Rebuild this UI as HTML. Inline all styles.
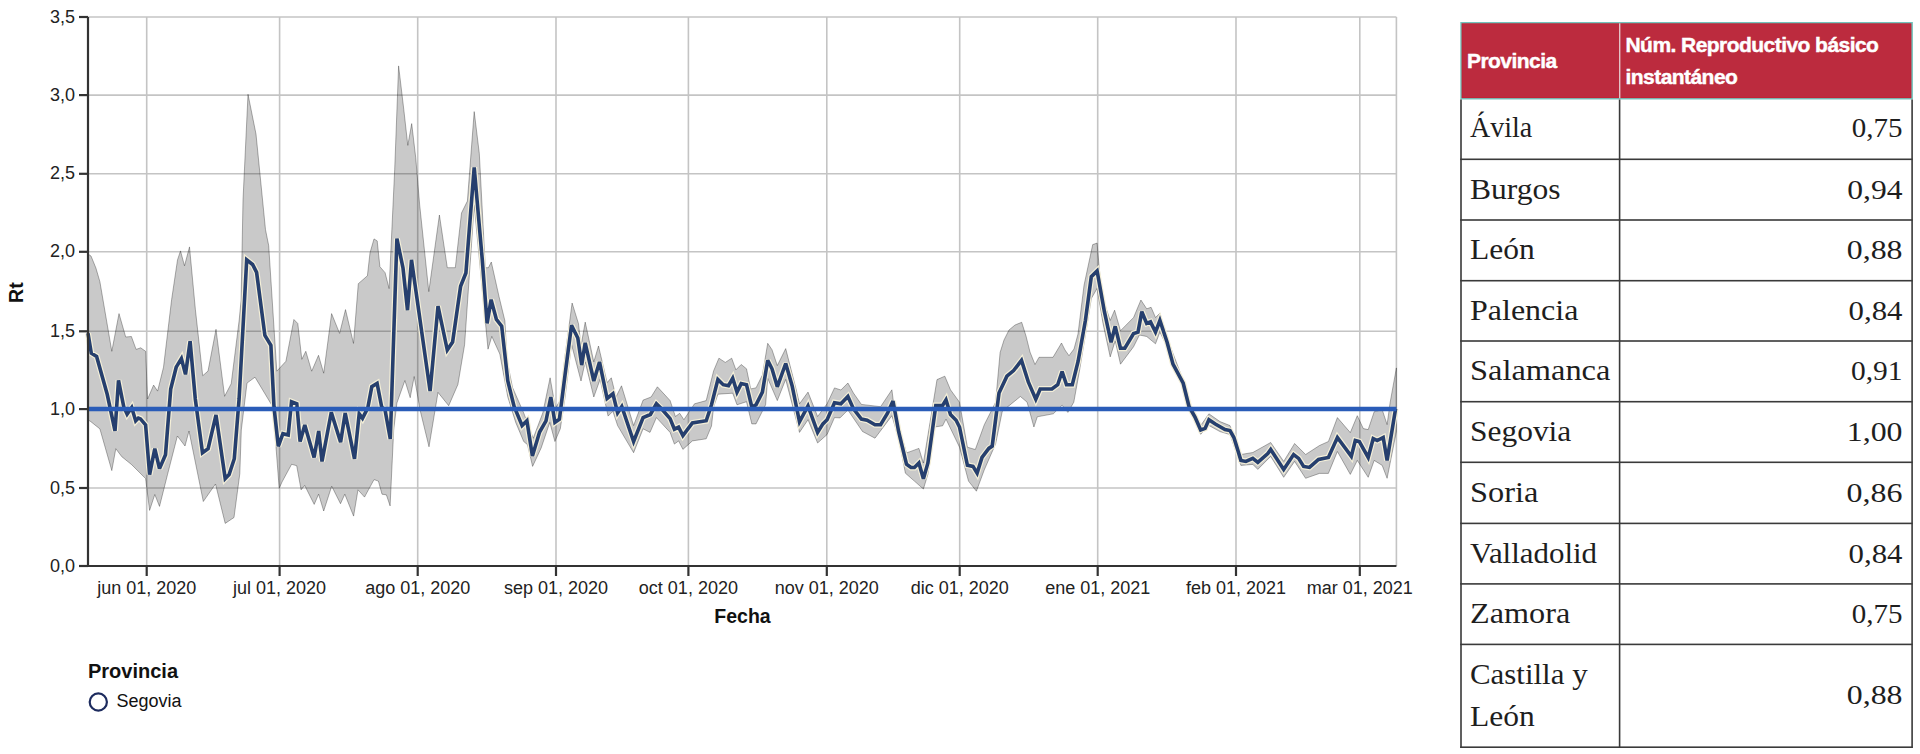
<!DOCTYPE html>
<html><head><meta charset="utf-8"><style>
html,body{margin:0;padding:0;background:#fff;}
body{width:1920px;height:754px;position:relative;overflow:hidden;}
</style></head>
<body>
<svg width="1920" height="754" viewBox="0 0 1920 754" style="position:absolute;left:0;top:0"><g stroke="#c4c4c4" stroke-width="1.6"><line x1="88" y1="488.0" x2="1396.4" y2="488.0"/><line x1="88" y1="409.1" x2="1396.4" y2="409.1"/><line x1="88" y1="331.3" x2="1396.4" y2="331.3"/><line x1="88" y1="251.8" x2="1396.4" y2="251.8"/><line x1="88" y1="173.8" x2="1396.4" y2="173.8"/><line x1="88" y1="95.1" x2="1396.4" y2="95.1"/><line x1="88" y1="17.0" x2="1396.4" y2="17.0"/><line x1="146.7" y1="17" x2="146.7" y2="566"/><line x1="279.6" y1="17" x2="279.6" y2="566"/><line x1="417.7" y1="17" x2="417.7" y2="566"/><line x1="556.0" y1="17" x2="556.0" y2="566"/><line x1="688.4" y1="17" x2="688.4" y2="566"/><line x1="826.8" y1="17" x2="826.8" y2="566"/><line x1="959.7" y1="17" x2="959.7" y2="566"/><line x1="1097.7" y1="17" x2="1097.7" y2="566"/><line x1="1236.0" y1="17" x2="1236.0" y2="566"/><line x1="1359.8" y1="17" x2="1359.8" y2="566"/><line x1="1396.4" y1="17" x2="1396.4" y2="566"/></g><path d="M88.0,254.0 L91.0,256.0 L95.9,268.0 L99.9,281.7 L111.8,351.3 L119.0,313.6 L125.7,337.0 L131.4,336.5 L136.1,349.4 L140.7,347.8 L145.6,351.3 L147.6,399.0 L153.6,385.1 L157.6,391.1 L163.5,367.2 L171.6,299.7 L177.5,259.9 L180.5,250.9 L184.5,265.8 L189.5,246.9 L195.4,309.6 L202.7,375.7 L208.0,371.1 L216.0,329.3 L224.6,396.3 L231.2,383.7 L239.2,320.0 L241.1,300.0 L243.0,200.0 L248.0,94.3 L256.0,134.1 L265.5,229.7 L268.7,245.6 L276.8,371.2 L285.9,361.3 L293.9,319.5 L297.8,323.5 L301.8,359.3 L305.8,351.3 L311.7,371.2 L318.5,355.3 L323.7,373.2 L331.6,313.6 L339.6,333.4 L345.5,309.6 L353.5,343.4 L358.3,283.7 L367.4,275.8 L370.0,252.8 L374.0,238.9 L377.2,240.9 L379.9,266.7 L385.1,272.7 L389.1,288.6 L394.7,169.3 L398.6,65.9 L403.8,109.6 L407.8,145.4 L411.7,123.6 L415.7,157.4 L419.7,205.1 L428.8,291.6 L439.4,215.0 L447.3,267.7 L455.3,267.7 L461.5,213.0 L467.4,201.1 L474.2,111.6 L479.3,153.4 L485.3,267.7 L488.4,267.7 L491.3,262.0 L499.1,296.9 L504.9,320.8 L507.0,360.0 L512.5,387.4 L523.7,412.9 L533.2,438.3 L542.8,412.9 L550.1,377.8 L555.5,408.1 L560.3,400.1 L565.1,355.5 L572.1,303.0 L578.5,323.7 L581.0,346.0 L585.2,322.1 L593.8,361.9 L598.5,346.0 L607.1,382.6 L611.3,377.8 L616.0,396.9 L621.5,385.8 L633.6,425.6 L643.1,400.1 L651.1,397.0 L657.4,386.8 L670.1,400.6 L675.4,416.5 L679.7,413.3 L683.9,419.7 L694.5,403.8 L706.2,400.6 L713.6,370.9 L718.9,358.2 L725.3,362.4 L731.7,358.2 L735.9,369.8 L741.2,364.5 L746.5,368.8 L750.7,388.9 L756.0,387.9 L762.4,375.1 L767.7,343.3 L772.0,349.7 L777.3,365.6 L785.7,348.6 L796.3,390.0 L799.5,403.8 L808.0,392.1 L817.6,416.5 L827.1,403.8 L834.5,387.9 L840.9,390.0 L847.9,383.0 L853.5,393.1 L861.4,404.4 L880.6,406.7 L891.9,389.8 L895.2,415.7 L906.5,452.9 L918.9,448.4 L923.4,463.0 L937.0,379.6 L944.8,376.2 L950.5,389.8 L959.5,402.2 L967.4,447.2 L975.3,449.5 L984.3,424.7 L995.6,402.2 L1000.1,352.5 L1004.0,340.0 L1009.0,330.0 L1015.0,325.0 L1021.7,322.3 L1026.0,336.0 L1030.0,352.0 L1035.0,364.5 L1039.0,357.3 L1053.0,357.3 L1061.5,343.0 L1065.0,350.0 L1069.0,355.7 L1074.0,349.0 L1078.0,334.0 L1084.0,285.4 L1092.7,244.6 L1097.1,243.1 L1101.5,294.2 L1110.2,320.5 L1114.6,310.2 L1120.5,330.7 L1133.6,317.5 L1140.9,300.0 L1146.7,308.8 L1151.1,307.3 L1155.5,317.5 L1159.9,313.2 L1167.1,338.0 L1183.2,380.3 L1189.0,405.1 L1200.7,425.5 L1208.9,413.8 L1220.0,421.6 L1230.0,425.6 L1240.9,454.5 L1252.8,452.5 L1270.7,442.5 L1283.7,461.4 L1294.6,443.5 L1305.6,454.5 L1319.5,445.5 L1328.4,441.5 L1337.4,417.6 L1350.3,432.6 L1357.3,415.7 L1363.3,428.6 L1368.2,429.6 L1374.2,411.7 L1382.2,409.7 L1387.1,424.6 L1390.1,402.7 L1396.4,367.9 L1396.4,431.6 L1387.1,478.3 L1382.2,465.4 L1374.2,460.4 L1368.2,477.3 L1357.3,460.4 L1350.3,474.4 L1337.4,451.5 L1328.4,473.4 L1319.5,473.4 L1305.6,478.3 L1294.6,461.4 L1283.7,477.3 L1270.7,456.4 L1257.8,469.4 L1252.8,464.4 L1240.9,465.4 L1230.0,434.6 L1220.0,431.6 L1208.9,425.5 L1200.7,434.3 L1189.0,408.0 L1183.2,386.1 L1173.0,367.1 L1167.1,346.7 L1159.9,332.1 L1155.5,343.8 L1146.7,336.5 L1139.4,335.0 L1133.6,346.7 L1120.5,364.2 L1115.2,340.9 L1110.2,356.9 L1103.0,323.4 L1097.1,288.4 L1091.3,298.6 L1079.6,370.1 L1073.8,402.2 L1067.9,412.4 L1062.1,405.1 L1053.3,413.8 L1037.3,416.8 L1033.9,427.0 L1027.1,402.2 L1020.4,396.5 L1002.3,411.2 L995.6,443.9 L984.3,469.8 L976.4,491.2 L968.5,481.1 L959.5,447.2 L946.0,419.1 L942.6,425.8 L934.7,427.0 L927.9,474.3 L923.4,489.0 L914.4,481.1 L905.4,473.2 L898.6,438.2 L891.9,415.7 L875.0,438.2 L862.5,431.5 L847.9,410.0 L840.0,417.9 L834.5,417.6 L827.1,434.5 L817.6,443.0 L808.0,419.7 L799.5,432.4 L785.7,379.4 L777.3,400.6 L767.7,378.3 L765.6,404.8 L756.0,423.9 L751.8,423.9 L746.5,401.7 L737.0,404.8 L732.7,393.2 L717.9,394.2 L713.6,407.0 L711.5,426.0 L706.2,438.8 L692.4,440.9 L682.9,449.4 L678.6,440.9 L674.4,444.1 L670.1,432.4 L656.4,417.6 L650.0,432.4 L643.1,428.8 L633.6,452.7 L617.6,425.6 L612.9,411.3 L608.1,416.1 L600.1,379.4 L593.8,397.0 L585.2,361.9 L581.0,381.0 L571.5,344.4 L565.1,397.0 L560.3,428.8 L554.9,441.5 L549.8,422.4 L541.2,447.9 L532.6,466.4 L527.5,444.7 L523.7,441.5 L515.7,422.4 L507.8,397.0 L499.8,354.0 L491.8,336.4 L488.0,349.2 L482.3,290.0 L474.2,205.0 L464.6,344.7 L457.9,384.5 L448.7,405.7 L438.0,392.4 L429.0,446.8 L420.3,411.0 L414.2,376.5 L410.2,397.7 L404.9,380.5 L396.9,403.0 L393.7,430.0 L390.1,505.9 L386.4,494.9 L382.0,494.2 L378.4,481.1 L374.0,479.6 L364.5,497.1 L358.0,489.8 L353.6,516.1 L344.8,494.2 L340.5,503.7 L331.7,486.2 L323.7,511.0 L318.6,494.2 L314.2,504.4 L304.7,485.4 L301.1,489.8 L296.7,465.7 L291.6,464.3 L282.0,482.0 L279.2,488.4 L272.9,407.0 L255.0,377.2 L247.0,383.1 L241.3,430.0 L239.8,473.8 L234.0,517.5 L225.2,523.4 L215.5,484.0 L203.3,501.5 L189.0,431.0 L185.0,446.0 L177.4,436.0 L167.5,474.6 L159.5,506.4 L154.8,494.5 L149.6,510.4 L145.6,478.6 L131.7,464.7 L121.8,456.7 L115.8,448.7 L111.8,470.6 L99.9,428.9 L90.0,421.0 L88.0,420.0 Z" fill="#000" fill-opacity="0.21" stroke="#000" stroke-opacity="0.3" stroke-width="1" stroke-linejoin="round"/><path d="M88.0,333.3 L91.3,353.2 L96.6,356.5 L107.2,394.3 L115.0,430.8 L118.5,380.3 L123.8,407.0 L127.1,414.2 L131.7,407.5 L135.7,420.9 L138.4,418.1 L140.5,418.9 L145.6,424.9 L149.6,474.6 L154.8,448.7 L159.5,468.6 L165.5,454.7 L170.7,389.1 L176.2,367.2 L181.4,358.5 L185.5,374.4 L190.1,341.2 L195.3,399.0 L202.5,452.7 L208.1,448.7 L216.0,415.0 L225.2,478.6 L229.1,474.6 L234.3,458.7 L239.1,399.0 L246.7,259.8 L252.6,264.5 L256.6,272.4 L264.9,335.4 L270.9,345.4 L274.0,407.0 L278.3,446.3 L282.9,433.7 L288.2,435.0 L291.5,401.8 L296.8,403.8 L300.1,441.6 L304.8,425.0 L314.1,457.5 L318.7,431.0 L322.0,461.5 L331.3,412.4 L340.6,442.3 L345.2,413.1 L354.5,458.9 L359.2,413.8 L362.5,418.4 L367.8,407.8 L371.8,386.6 L377.1,383.3 L381.7,407.1 L385.0,409.8 L390.3,439.0 L396.9,238.6 L403.0,268.0 L407.5,310.2 L411.5,259.8 L430.1,391.1 L438.0,306.2 L447.3,350.0 L452.6,342.0 L460.6,286.3 L465.9,273.0 L474.2,167.3 L482.3,260.0 L487.1,323.4 L491.1,299.6 L496.4,319.5 L501.7,326.1 L507.8,381.0 L514.1,406.5 L522.1,425.6 L526.9,420.8 L532.4,456.0 L539.6,432.0 L546.0,420.8 L550.8,397.0 L554.9,422.4 L559.4,419.2 L565.1,374.6 L571.5,325.3 L577.8,338.0 L581.7,365.1 L585.2,342.8 L593.8,381.0 L599.5,361.9 L607.1,398.5 L612.9,393.8 L617.6,412.9 L621.8,406.5 L633.6,441.5 L643.1,417.6 L650.4,414.5 L656.4,403.8 L661.7,409.1 L670.1,418.6 L674.4,429.2 L678.6,427.1 L682.9,435.6 L692.4,422.9 L706.2,420.7 L711.5,404.8 L717.9,379.4 L723.2,384.7 L728.5,385.7 L732.7,378.3 L737.0,392.1 L741.2,383.6 L746.5,384.7 L751.8,407.0 L756.0,404.8 L762.4,392.1 L767.7,360.3 L772.0,368.8 L777.3,386.8 L785.7,363.5 L792.1,385.7 L799.5,421.8 L808.0,405.9 L817.6,432.4 L822.9,423.9 L827.1,419.7 L834.5,402.7 L840.9,403.8 L847.9,396.5 L853.5,408.9 L861.4,419.1 L867.1,420.2 L875.0,424.7 L880.6,424.7 L887.4,413.4 L893.0,401.0 L898.6,431.5 L906.5,464.2 L911.0,467.5 L914.4,467.5 L918.9,463.0 L923.4,478.8 L927.9,463.0 L935.8,405.5 L942.6,405.5 L946.0,399.9 L950.5,414.6 L956.1,420.2 L959.5,427.0 L967.4,465.3 L973.0,466.4 L977.1,473.2 L982.0,457.4 L988.8,448.4 L992.2,446.1 L999.0,393.1 L1006.9,376.2 L1013.6,370.6 L1021.5,360.4 L1028.3,381.9 L1035.8,399.2 L1040.2,389.0 L1051.9,389.0 L1057.7,384.7 L1062.1,371.5 L1066.5,384.7 L1072.3,384.7 L1078.1,361.3 L1085.4,320.5 L1091.3,276.7 L1097.1,270.9 L1104.4,311.7 L1111.1,342.3 L1115.2,326.3 L1120.5,348.2 L1124.8,348.2 L1133.6,333.6 L1138.0,332.1 L1141.8,311.7 L1146.7,323.4 L1150.5,321.9 L1155.5,332.1 L1159.9,320.5 L1167.1,342.3 L1173.0,364.2 L1183.2,383.2 L1189.0,406.5 L1194.9,416.8 L1200.7,429.9 L1205.1,428.4 L1208.9,419.7 L1215.3,424.0 L1225.0,429.6 L1230.0,430.6 L1233.9,437.5 L1240.9,460.4 L1245.9,461.4 L1252.8,458.4 L1257.8,462.4 L1267.8,453.5 L1270.7,449.5 L1283.7,469.4 L1293.6,454.5 L1298.6,458.4 L1303.6,466.4 L1309.5,467.4 L1318.5,459.4 L1328.4,457.4 L1337.4,437.5 L1351.3,456.4 L1355.3,440.5 L1359.3,441.5 L1368.2,457.4 L1373.2,438.5 L1377.2,440.5 L1383.2,437.5 L1387.1,460.4 L1395.6,408.7" fill="none" stroke="#f4efd8" stroke-width="6" stroke-linejoin="miter" stroke-miterlimit="3"/><path d="M88.0,333.3 L91.3,353.2 L96.6,356.5 L107.2,394.3 L115.0,430.8 L118.5,380.3 L123.8,407.0 L127.1,414.2 L131.7,407.5 L135.7,420.9 L138.4,418.1 L140.5,418.9 L145.6,424.9 L149.6,474.6 L154.8,448.7 L159.5,468.6 L165.5,454.7 L170.7,389.1 L176.2,367.2 L181.4,358.5 L185.5,374.4 L190.1,341.2 L195.3,399.0 L202.5,452.7 L208.1,448.7 L216.0,415.0 L225.2,478.6 L229.1,474.6 L234.3,458.7 L239.1,399.0 L246.7,259.8 L252.6,264.5 L256.6,272.4 L264.9,335.4 L270.9,345.4 L274.0,407.0 L278.3,446.3 L282.9,433.7 L288.2,435.0 L291.5,401.8 L296.8,403.8 L300.1,441.6 L304.8,425.0 L314.1,457.5 L318.7,431.0 L322.0,461.5 L331.3,412.4 L340.6,442.3 L345.2,413.1 L354.5,458.9 L359.2,413.8 L362.5,418.4 L367.8,407.8 L371.8,386.6 L377.1,383.3 L381.7,407.1 L385.0,409.8 L390.3,439.0 L396.9,238.6 L403.0,268.0 L407.5,310.2 L411.5,259.8 L430.1,391.1 L438.0,306.2 L447.3,350.0 L452.6,342.0 L460.6,286.3 L465.9,273.0 L474.2,167.3 L482.3,260.0 L487.1,323.4 L491.1,299.6 L496.4,319.5 L501.7,326.1 L507.8,381.0 L514.1,406.5 L522.1,425.6 L526.9,420.8 L532.4,456.0 L539.6,432.0 L546.0,420.8 L550.8,397.0 L554.9,422.4 L559.4,419.2 L565.1,374.6 L571.5,325.3 L577.8,338.0 L581.7,365.1 L585.2,342.8 L593.8,381.0 L599.5,361.9 L607.1,398.5 L612.9,393.8 L617.6,412.9 L621.8,406.5 L633.6,441.5 L643.1,417.6 L650.4,414.5 L656.4,403.8 L661.7,409.1 L670.1,418.6 L674.4,429.2 L678.6,427.1 L682.9,435.6 L692.4,422.9 L706.2,420.7 L711.5,404.8 L717.9,379.4 L723.2,384.7 L728.5,385.7 L732.7,378.3 L737.0,392.1 L741.2,383.6 L746.5,384.7 L751.8,407.0 L756.0,404.8 L762.4,392.1 L767.7,360.3 L772.0,368.8 L777.3,386.8 L785.7,363.5 L792.1,385.7 L799.5,421.8 L808.0,405.9 L817.6,432.4 L822.9,423.9 L827.1,419.7 L834.5,402.7 L840.9,403.8 L847.9,396.5 L853.5,408.9 L861.4,419.1 L867.1,420.2 L875.0,424.7 L880.6,424.7 L887.4,413.4 L893.0,401.0 L898.6,431.5 L906.5,464.2 L911.0,467.5 L914.4,467.5 L918.9,463.0 L923.4,478.8 L927.9,463.0 L935.8,405.5 L942.6,405.5 L946.0,399.9 L950.5,414.6 L956.1,420.2 L959.5,427.0 L967.4,465.3 L973.0,466.4 L977.1,473.2 L982.0,457.4 L988.8,448.4 L992.2,446.1 L999.0,393.1 L1006.9,376.2 L1013.6,370.6 L1021.5,360.4 L1028.3,381.9 L1035.8,399.2 L1040.2,389.0 L1051.9,389.0 L1057.7,384.7 L1062.1,371.5 L1066.5,384.7 L1072.3,384.7 L1078.1,361.3 L1085.4,320.5 L1091.3,276.7 L1097.1,270.9 L1104.4,311.7 L1111.1,342.3 L1115.2,326.3 L1120.5,348.2 L1124.8,348.2 L1133.6,333.6 L1138.0,332.1 L1141.8,311.7 L1146.7,323.4 L1150.5,321.9 L1155.5,332.1 L1159.9,320.5 L1167.1,342.3 L1173.0,364.2 L1183.2,383.2 L1189.0,406.5 L1194.9,416.8 L1200.7,429.9 L1205.1,428.4 L1208.9,419.7 L1215.3,424.0 L1225.0,429.6 L1230.0,430.6 L1233.9,437.5 L1240.9,460.4 L1245.9,461.4 L1252.8,458.4 L1257.8,462.4 L1267.8,453.5 L1270.7,449.5 L1283.7,469.4 L1293.6,454.5 L1298.6,458.4 L1303.6,466.4 L1309.5,467.4 L1318.5,459.4 L1328.4,457.4 L1337.4,437.5 L1351.3,456.4 L1355.3,440.5 L1359.3,441.5 L1368.2,457.4 L1373.2,438.5 L1377.2,440.5 L1383.2,437.5 L1387.1,460.4 L1395.6,408.7" fill="none" stroke="#263f6e" stroke-width="3.6" stroke-linejoin="miter" stroke-miterlimit="3"/><line x1="88" y1="409.1" x2="1396.4" y2="409.1" stroke="#2a5cb8" stroke-width="4.5"/><g stroke="#333" stroke-width="2.2" fill="none"><path d="M88,17 L88,566 L1396.4,566"/><line x1="79" y1="566.0" x2="88" y2="566.0"/><line x1="79" y1="488.0" x2="88" y2="488.0"/><line x1="79" y1="409.1" x2="88" y2="409.1"/><line x1="79" y1="331.3" x2="88" y2="331.3"/><line x1="79" y1="251.8" x2="88" y2="251.8"/><line x1="79" y1="173.8" x2="88" y2="173.8"/><line x1="79" y1="95.1" x2="88" y2="95.1"/><line x1="79" y1="17.0" x2="88" y2="17.0"/><line x1="146.7" y1="566" x2="146.7" y2="576"/><line x1="279.6" y1="566" x2="279.6" y2="576"/><line x1="417.7" y1="566" x2="417.7" y2="576"/><line x1="556.0" y1="566" x2="556.0" y2="576"/><line x1="688.4" y1="566" x2="688.4" y2="576"/><line x1="826.8" y1="566" x2="826.8" y2="576"/><line x1="959.7" y1="566" x2="959.7" y2="576"/><line x1="1097.7" y1="566" x2="1097.7" y2="576"/><line x1="1236.0" y1="566" x2="1236.0" y2="576"/><line x1="1359.8" y1="566" x2="1359.8" y2="576"/></g><g font-family="Liberation Sans, sans-serif" font-size="18" fill="#222"><text x="75" y="571.6" text-anchor="end">0,0</text><text x="75" y="493.6" text-anchor="end">0,5</text><text x="75" y="414.7" text-anchor="end">1,0</text><text x="75" y="336.9" text-anchor="end">1,5</text><text x="75" y="257.4" text-anchor="end">2,0</text><text x="75" y="179.4" text-anchor="end">2,5</text><text x="75" y="100.7" text-anchor="end">3,0</text><text x="75" y="22.6" text-anchor="end">3,5</text><text x="146.7" y="593.6" text-anchor="middle">jun 01, 2020</text><text x="279.6" y="593.6" text-anchor="middle">jul 01, 2020</text><text x="417.7" y="593.6" text-anchor="middle">ago 01, 2020</text><text x="556.0" y="593.6" text-anchor="middle">sep 01, 2020</text><text x="688.4" y="593.6" text-anchor="middle">oct 01, 2020</text><text x="826.8" y="593.6" text-anchor="middle">nov 01, 2020</text><text x="959.7" y="593.6" text-anchor="middle">dic 01, 2020</text><text x="1097.7" y="593.6" text-anchor="middle">ene 01, 2021</text><text x="1236.0" y="593.6" text-anchor="middle">feb 01, 2021</text><text x="1359.8" y="593.6" text-anchor="middle">mar 01, 2021</text></g><text x="742.5" y="622.8" text-anchor="middle" font-family="Liberation Sans, sans-serif" font-size="19.5" font-weight="bold" fill="#111">Fecha</text><text transform="translate(23.3,292.6) rotate(-90)" text-anchor="middle" font-family="Liberation Sans, sans-serif" font-size="19.5" font-weight="bold" fill="#111">Rt</text><text x="88" y="678.3" font-family="Liberation Sans, sans-serif" font-size="20" font-weight="bold" fill="#111">Provincia</text><circle cx="98.3" cy="702" r="8.6" fill="none" stroke="#1d2b5e" stroke-width="2.2"/><text x="116.5" y="707.1" font-family="Liberation Sans, sans-serif" font-size="18" fill="#111">Segovia</text></svg>
<svg width="1920" height="754" viewBox="0 0 1920 754" style="position:absolute;left:0;top:0"><rect x="1460.3" y="22" width="452.6" height="77.5" fill="#72c3bb"/><rect x="1461.6" y="23.3" width="449.8" height="74.8" fill="#c41f33"/><rect x="1462.4" y="24.1" width="448.2" height="73.2" fill="#bc2b3e"/><rect x="1619" y="23.3" width="1.4" height="74.8" fill="#e3c3c6"/><g font-family="Liberation Sans, sans-serif" font-weight="bold" font-size="21" fill="#fff" stroke="#fff" stroke-width="0.45" letter-spacing="-0.55"><text x="1467" y="67.5">Provincia</text><text x="1625.5" y="51.9">Núm. Reproductivo básico</text><text x="1625.5" y="83.8">instantáneo</text></g><g fill="#3a3a3a"><rect x="1460.2" y="158.5" width="452.4" height="1.6"/><rect x="1460.2" y="219.2" width="452.4" height="1.6"/><rect x="1460.2" y="279.9" width="452.4" height="1.6"/><rect x="1460.2" y="340.2" width="452.4" height="1.6"/><rect x="1460.2" y="400.9" width="452.4" height="1.6"/><rect x="1460.2" y="461.5" width="452.4" height="1.6"/><rect x="1460.2" y="522.6" width="452.4" height="1.6"/><rect x="1460.2" y="583.1" width="452.4" height="1.6"/><rect x="1460.2" y="643.6" width="452.4" height="1.6"/><rect x="1460.2" y="746.4" width="452.4" height="1.6"/><rect x="1460.2" y="99.5" width="1.6" height="648.5"/><rect x="1618.8" y="99.5" width="1.6" height="648.5"/><rect x="1911.3" y="99.5" width="1.6" height="648.5"/></g><g font-family="Liberation Serif, serif" fill="#1e1e1e"><text x="1470" y="137.4" font-size="30" textLength="62.3" lengthAdjust="spacingAndGlyphs">Ávila</text><text x="1851.8" y="137.4" font-size="28" textLength="50.7" lengthAdjust="spacingAndGlyphs">0,75</text><text x="1470" y="198.7" font-size="30" textLength="90.6" lengthAdjust="spacingAndGlyphs">Burgos</text><text x="1847.3" y="198.7" font-size="28" textLength="55.2" lengthAdjust="spacingAndGlyphs">0,94</text><text x="1470" y="259.4" font-size="30" textLength="64.7" lengthAdjust="spacingAndGlyphs">León</text><text x="1846.8" y="259.4" font-size="28" textLength="55.7" lengthAdjust="spacingAndGlyphs">0,88</text><text x="1470" y="320.1" font-size="30" textLength="108.4" lengthAdjust="spacingAndGlyphs">Palencia</text><text x="1848.6" y="320.1" font-size="28" textLength="53.9" lengthAdjust="spacingAndGlyphs">0,84</text><text x="1470" y="380.4" font-size="30" textLength="140.4" lengthAdjust="spacingAndGlyphs">Salamanca</text><text x="1851.0" y="380.4" font-size="28" textLength="51.5" lengthAdjust="spacingAndGlyphs">0,91</text><text x="1470" y="441.1" font-size="30" textLength="101.3" lengthAdjust="spacingAndGlyphs">Segovia</text><text x="1846.8" y="441.1" font-size="28" textLength="55.7" lengthAdjust="spacingAndGlyphs">1,00</text><text x="1470" y="501.7" font-size="30" textLength="68.3" lengthAdjust="spacingAndGlyphs">Soria</text><text x="1846.6" y="501.7" font-size="28" textLength="55.9" lengthAdjust="spacingAndGlyphs">0,86</text><text x="1470" y="562.8" font-size="30" textLength="127.0" lengthAdjust="spacingAndGlyphs">Valladolid</text><text x="1848.6" y="562.8" font-size="28" textLength="53.9" lengthAdjust="spacingAndGlyphs">0,84</text><text x="1470" y="623.3" font-size="30" textLength="100.2" lengthAdjust="spacingAndGlyphs">Zamora</text><text x="1851.8" y="623.3" font-size="28" textLength="50.7" lengthAdjust="spacingAndGlyphs">0,75</text><text x="1470" y="683.8" font-size="30" textLength="117.6" lengthAdjust="spacingAndGlyphs">Castilla y</text><text x="1470" y="726.2" font-size="30" textLength="64.7" lengthAdjust="spacingAndGlyphs">León</text><text x="1846.8" y="704.0" font-size="28" textLength="55.7" lengthAdjust="spacingAndGlyphs">0,88</text></g></svg>
</body></html>
